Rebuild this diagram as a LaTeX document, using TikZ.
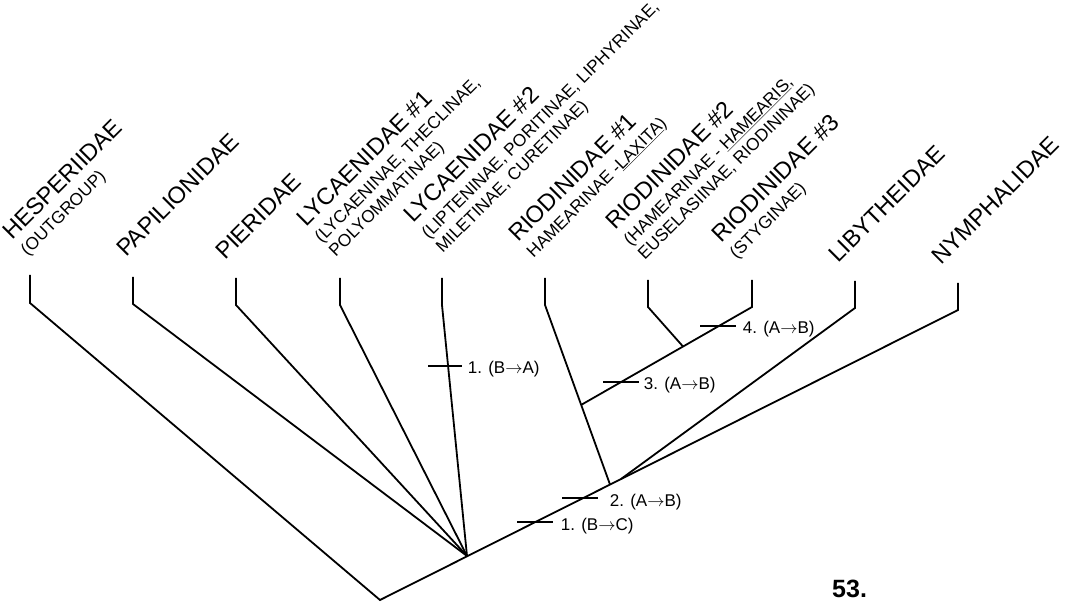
\documentclass[tikz,border=0pt]{standalone}
\usepackage{fontspec}
\setmainfont{Liberation Sans}
\usetikzlibrary{calc}

\newcommand{\chg}{\ensuremath{\rightarrow}}

\tikzset{
  branch/.style={line width=1.8pt, line join=miter},
  synapo/.style={line width=1.6pt},
  taxon/.style={rotate=45, anchor=base west, inner sep=0pt, font=\fontsize{23.5}{28}\selectfont},
  subtaxon/.style={taxon, font=\fontsize{17.3}{20}\selectfont},
  change/.style={anchor=base west, inner sep=0pt, font=\fontsize{17}{20}\selectfont},
}

\begin{document}
\begin{tikzpicture}[x=1pt,y=1pt]
        \useasboundingbox (0,0) rectangle (1066,603);
        % terminal stubs (tip and foot)
        \coordinate (hesp-t) at (30,328);  \coordinate (hesp-b) at (30,300);
        \coordinate (papi-t) at (133,326); \coordinate (papi-b) at (133,299);
        \coordinate (pier-t) at (236,325); \coordinate (pier-b) at (236,298);
        \coordinate (lyc1-t) at (340,325); \coordinate (lyc1-b) at (340,298);
        \coordinate (lyc2-t) at (442,325); \coordinate (lyc2-b) at (442,298);
        \coordinate (rio1-t) at (545,325); \coordinate (rio1-b) at (545,298);
        \coordinate (rio2-t) at (648,323); \coordinate (rio2-b) at (648,296);
        \coordinate (rio3-t) at (752,323); \coordinate (rio3-b) at (752,296);
        \coordinate (liby-t) at (855,322); \coordinate (liby-b) at (855,295);
        \coordinate (nymp-t) at (958,320); \coordinate (nymp-b) at (958,293);
        % internal nodes
        \coordinate (root) at (380,3);
        \coordinate (poly) at (467,47);
        \coordinate (rio-j) at (610,118.5);
        \coordinate (liby-j) at (621,124);
        \coordinate (rio-k) at (581,198);
        \coordinate (rio-m) at (683,256.5);

        % branches
        \draw[branch] (hesp-t) -- (hesp-b) -- (root) -- (nymp-b) -- (nymp-t);
        \draw[branch] (papi-t) -- (papi-b) -- (poly);
        \draw[branch] (pier-t) -- (pier-b) -- (poly);
        \draw[branch] (lyc1-t) -- (lyc1-b) -- (poly);
        \draw[branch] (lyc2-t) -- (lyc2-b) -- (poly);
        \draw[branch] (rio1-t) -- (rio1-b) -- (rio-j);
        \draw[branch] (rio3-t) -- (rio3-b) -- (rio-k);
        \draw[branch] (rio2-t) -- (rio2-b) -- (rio-m);
        \draw[branch] (liby-t) -- (liby-b) -- (liby-j);

        % character changes
        \coordinate (c1a) at (445,237);
        \coordinate (c1b) at (535,81);
        \coordinate (c2) at (580,105);
        \coordinate (c3) at (621,221);
        \coordinate (c4) at (718,277);
        \draw[synapo] ([xshift=-17pt]c1a) -- ([xshift=17pt]c1a) node[change, xshift=5pt, yshift=-8pt] (l1a) {1. (B\chg A)};
        \draw[synapo] ([xshift=-18pt]c1b) -- ([xshift=18pt]c1b) node[change, xshift=7pt, yshift=-8pt] (l1b) {1. (B\chg C)};
        \draw[synapo] ([xshift=-18pt]c2) -- ([xshift=18pt]c2) node[change, xshift=11pt, yshift=-8pt] (l2) {2. (A\chg B)};
        \draw[synapo] ([xshift=-18pt]c3) -- ([xshift=18pt]c3) node[change, xshift=4pt, yshift=-8pt] (l3) {3. (A\chg B)};
        \draw[synapo] ([xshift=-18pt]c4) -- ([xshift=18pt]c4) node[change, xshift=6pt, yshift=-8pt] (l4) {4. (A\chg B)};

        % taxon names
        \node[taxon] (hesp) at (12,362) {HESPERIIDAE};
        \node[subtaxon] (hesp-s) at ($(hesp.base west)+(-45:22)$) {(OUTGROUP)};
        \node[taxon] (papi) at (126,345) {PAPILIONIDAE};
        \node[taxon] (pier) at (225,342) {PIERIDAE};
        \node[taxon] (lyc1) at (306,375) {LYCAENIDAE \#1};
        \node[subtaxon] (lyc1-s) at ($(lyc1.base west)+(-45:22)$) {(LYCAENINAE, THECLINAE,};
        \node[subtaxon] (lyc1-ss) at ($(lyc1.base west)+(-45:42)$) {POLYOMMATINAE)};
        \node[taxon] (lyc2) at (413,379) {LYCAENIDAE \#2};
        \node[subtaxon] (lyc2-s) at ($(lyc2.base west)+(-45:22)$) {(LIPTENINAE, PORITINAE, LIPHYRINAE,};
        \node[subtaxon] (lyc2-ss) at ($(lyc2.base west)+(-45:42)$) {MILETINAE, CURETINAE)};
        \node[taxon] (rio1) at (518,360) {RIODINIDAE \#1};
        \node[subtaxon] (rio1-s) at ($(rio1.base west)+(-45:22)$) {HAMEARINAE -\underline{LAXITA})};
        \node[taxon] (rio2) at (615,372) {RIODINIDAE \#2};
        \node[subtaxon] (rio2-s) at ($(rio2.base west)+(-45:22)$) {(HAMEARINAE - \underline{HAMEARIS},};
        \node[subtaxon] (rio2-ss) at ($(rio2.base west)+(-45:42)$) {EUSELASIINAE, RIODININAE)};
        \node[taxon] (rio3) at (721,359) {RIODINIDAE \#3};
        \node[subtaxon] (rio3-s) at ($(rio3.base west)+(-45:22)$) {(STYGINAE)};
        \node[taxon] (liby) at (838,339) {LIBYTHEIDAE};
        \node[taxon] (nymp) at (941,337) {NYMPHALIDAE};

        \node[anchor=base west, inner sep=0pt, font=\bfseries\fontsize{25}{30}\selectfont] (fig) at (832,6) {53.};
      \end{tikzpicture}
\end{document}
